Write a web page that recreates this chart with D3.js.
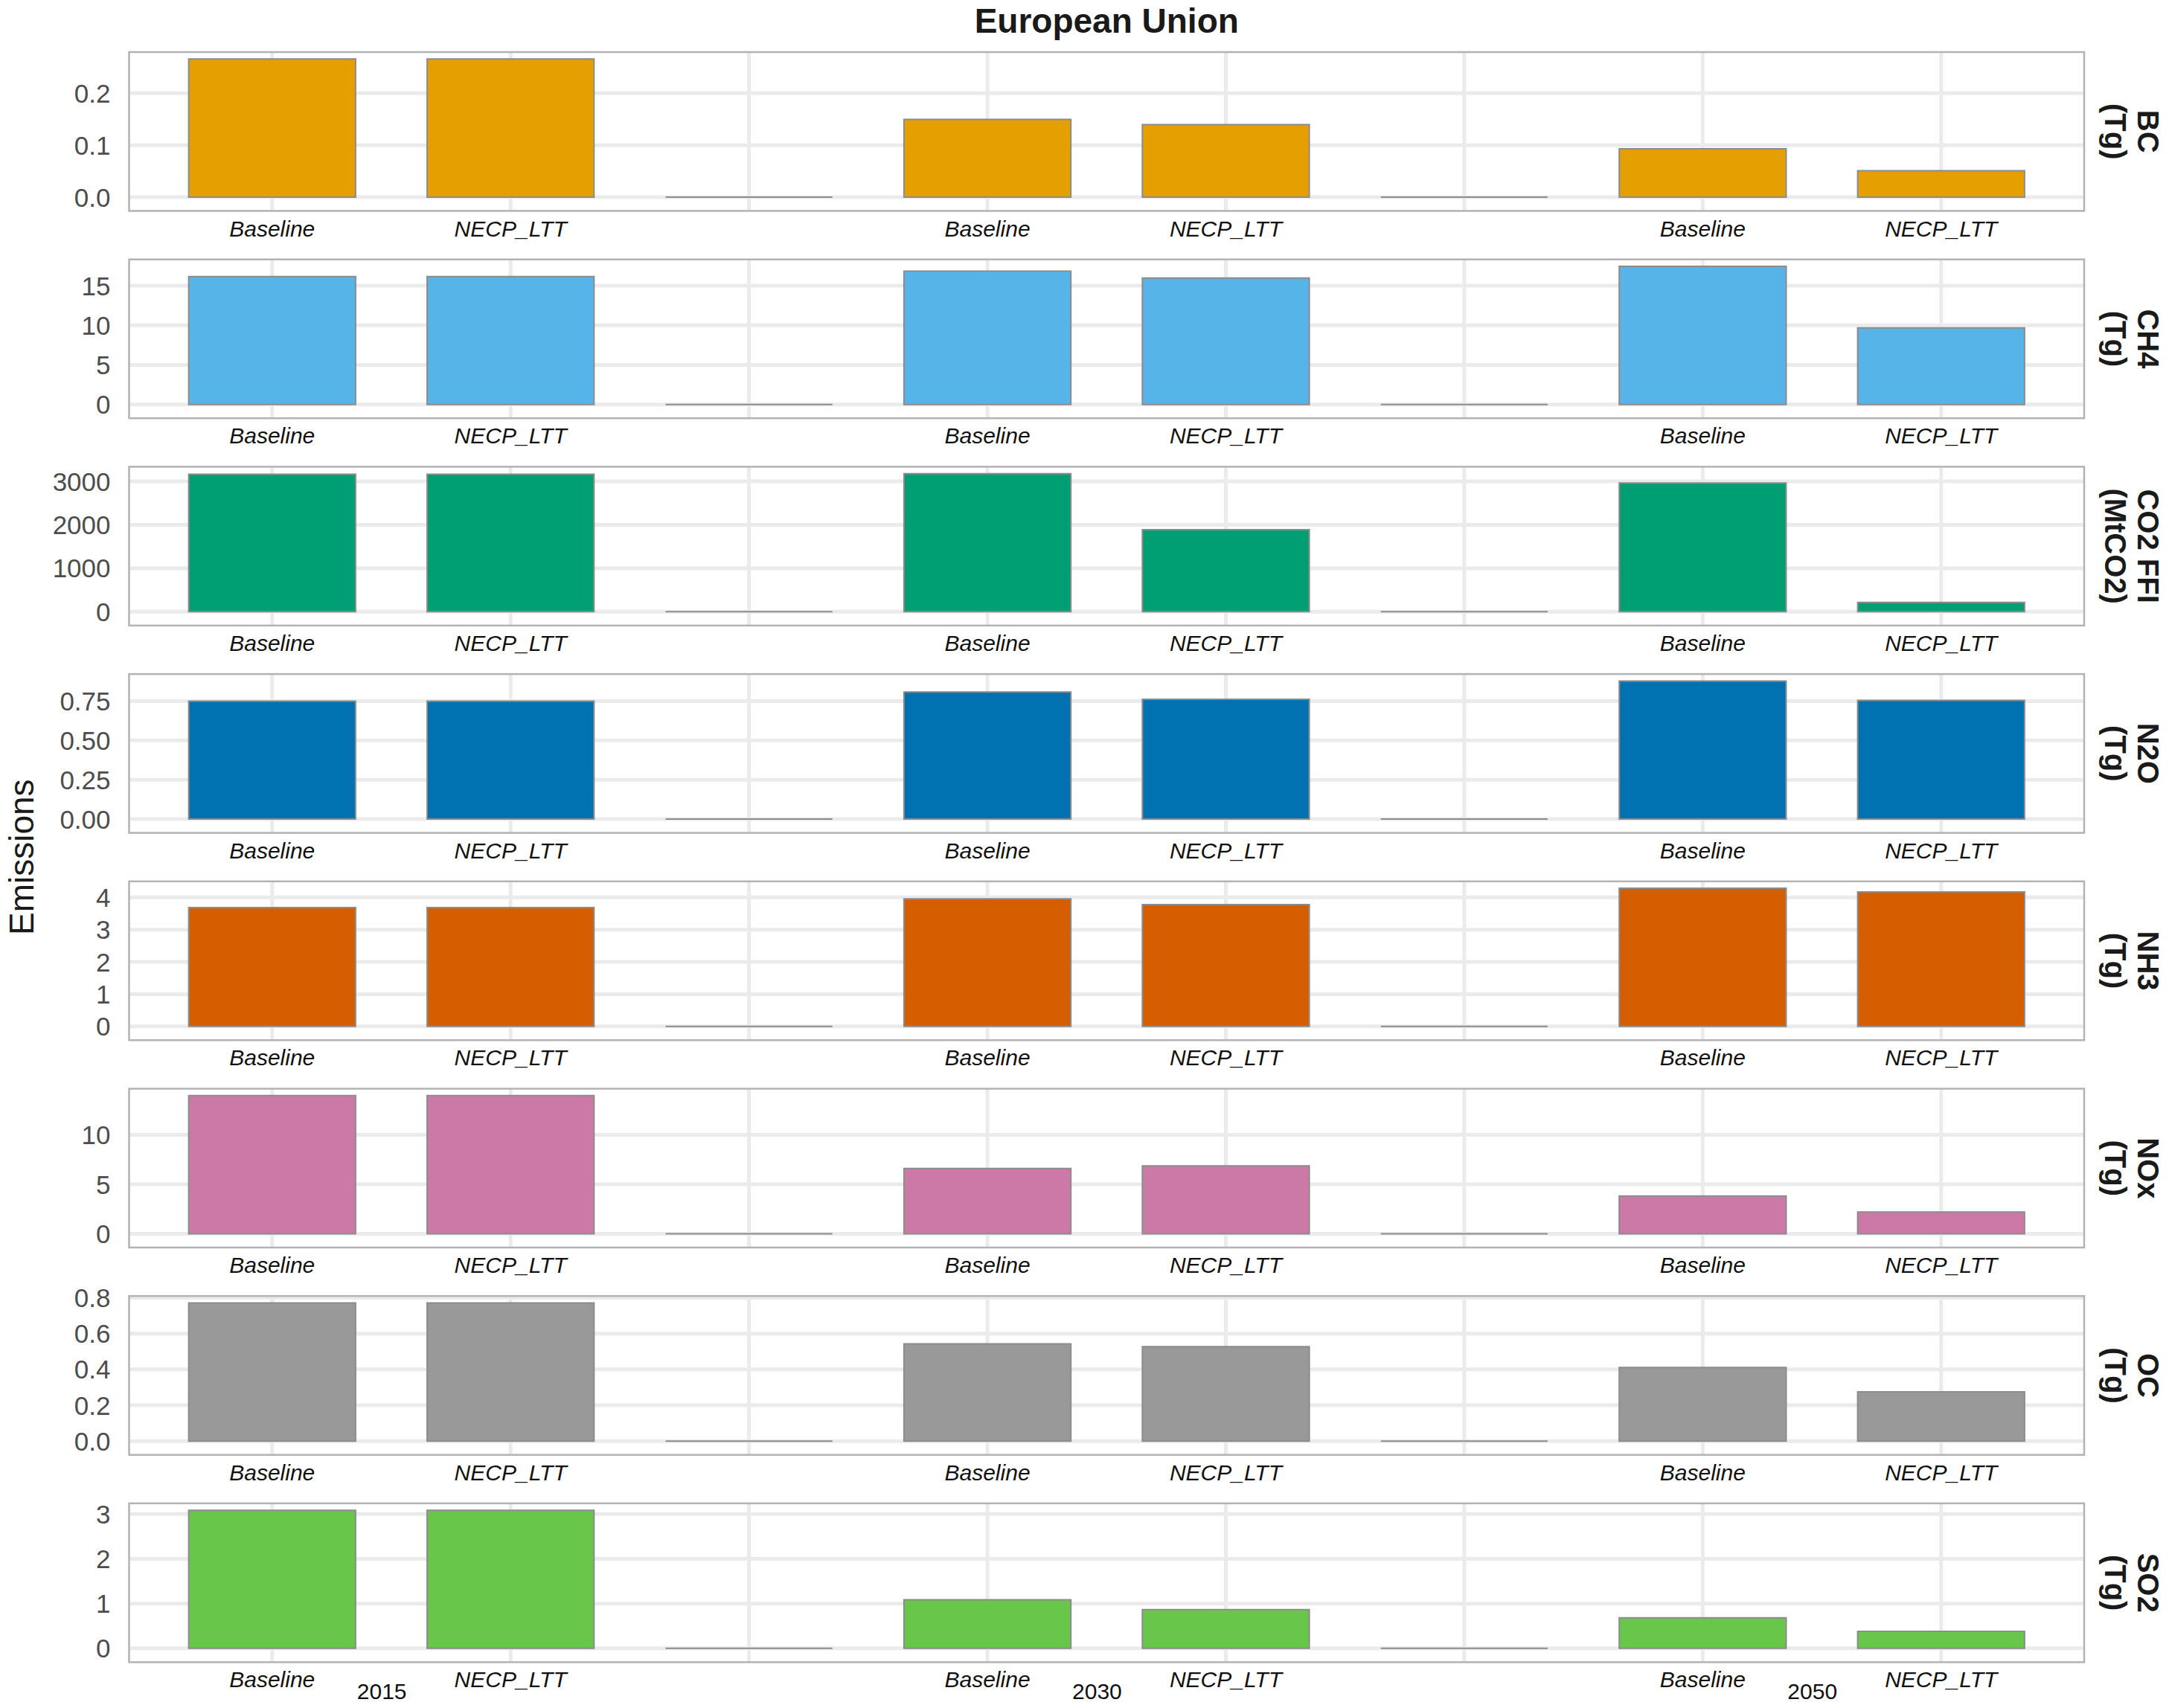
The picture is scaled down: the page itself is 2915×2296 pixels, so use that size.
<!DOCTYPE html>
<html>
<head>
<meta charset="utf-8">
<script src="https://cdn.jsdelivr.net/npm/d3@7"></script>
<style>
  body { margin: 0; background: #fff; }
  svg { display: block; font-family: "Liberation Sans", Arial, sans-serif; }
</style>
</head>
<body>
<div id="viz"></div>
<script>
// slots along the x axis (the blank ones hold an empty bar)
const slotYears = ["2015", "2015", "2015", "2030", "2030", "2030", "2050", "2050"];
const slotScenarios = ["Baseline", "NECP_LTT", "", "Baseline", "NECP_LTT", "", "Baseline", "NECP_LTT"];
const years = ["2015", "2030", "2050"];

const species = ["BC", "CH4", "CO2 FFI", "N2O", "NH3", "NOx", "OC", "SO2"];
const units = ["(Tg)", "(Tg)", "(MtCO2)", "(Tg)", "(Tg)", "(Tg)", "(Tg)", "(Tg)"];
const colors = ["#E69F00", "#56B4E9", "#009E73", "#0072B2", "#D55E00", "#CC79A7", "#999999", "#68C64B"];

const bc  = [0.266, 0.266, 0, 0.1495, 0.1396, 0, 0.093, 0.0507];
const ch4 = [16.15, 16.15, 0, 16.83, 15.97, 0, 17.45, 9.68];
const co2 = [3164, 3164, 0, 3177, 1890, 0, 2961, 216];
const n2o = [0.750, 0.750, 0, 0.808, 0.762, 0, 0.878, 0.755];
const nh3 = [3.683, 3.683, 0, 3.957, 3.777, 0, 4.283, 4.171];
const nox = [13.96, 13.96, 0, 6.60, 6.85, 0, 3.82, 2.20];
const oc  = [0.771, 0.771, 0, 0.542, 0.527, 0, 0.411, 0.275];
const so2 = [3.086, 3.086, 0, 1.086, 0.865, 0, 0.681, 0.380];
const values = [bc, ch4, co2, n2o, nh3, nox, oc, so2];

const yTicks = [
  [0, 0.1, 0.2],
  [0, 5, 10, 15],
  [0, 1000, 2000, 3000],
  [0, 0.25, 0.5, 0.75],
  [0, 1, 2, 3, 4],
  [0, 5, 10],
  [0, 0.2, 0.4, 0.6, 0.8],
  [0, 1, 2, 3]
];
const yFormats = [".1f", "d", "d", ".2f", "d", "d", ".1f", "d"];

let width = 2915, height = 2296;
let margin = { left: 173.5, right: 114, top: 70 };
let panelH = 213.5, panelStep = 278.7;

let svg = d3.select("#viz").append("svg")
  .attr("width", width)
  .attr("height", height);

let x = d3.scaleBand()
  .domain(d3.range(slotYears.length))
  .range([margin.left, width - margin.right])
  .paddingInner(0.3)
  .paddingOuter(0.25);

svg.append("text")
  .text("European Union")
  .attr("x", (margin.left + width - margin.right) / 2)
  .attr("y", 44)
  .attr("text-anchor", "middle")
  .style("font-weight", "bold")
  .style("font-size", "46px")
  .style("fill", "#1a1a1a");

svg.append("text")
  .text("Emissions")
  .attr("transform", "translate(45," + (margin.top + (panelStep * 7 + panelH) / 2) + ") rotate(-90)")
  .attr("text-anchor", "middle")
  .style("font-size", "46px")
  .style("fill", "#1a1a1a");

for (let i = 0; i < species.length; i++) {
  let top = margin.top + i * panelStep;
  let vals = values[i];
  let maxV = d3.max(vals);

  let y = d3.scaleLinear()
    .domain([-0.1 * maxV, 1.05 * maxV])
    .range([top + panelH, top]);

  let g = svg.append("g");

  // grid
  g.selectAll(".hgrid")
    .data(yTicks[i])
    .enter().append("line")
    .attr("x1", margin.left).attr("x2", width - margin.right)
    .attr("y1", d => y(d)).attr("y2", d => y(d))
    .style("stroke", "#ebebeb")
    .style("stroke-width", 5);

  g.selectAll(".vgrid")
    .data(x.domain())
    .enter().append("line")
    .attr("x1", d => x(d) + x.bandwidth() / 2)
    .attr("x2", d => x(d) + x.bandwidth() / 2)
    .attr("y1", top).attr("y2", top + panelH)
    .style("stroke", "#ebebeb")
    .style("stroke-width", 5);

  // bars (paths so the empty ones still show as a line)
  g.selectAll(".bar")
    .data(vals)
    .enter().append("path")
    .attr("d", (d, j) => {
      let x0 = x(j), x1 = x(j) + x.bandwidth();
      return "M" + x0 + "," + y(0) + "H" + x1 + "V" + y(d) + "H" + x0 + "Z";
    })
    .style("fill", colors[i])
    .style("stroke", "#8c8c8c")
    .style("stroke-width", 2);

  // y axis labels
  g.selectAll(".ytick")
    .data(yTicks[i])
    .enter().append("text")
    .text(d => d3.format(yFormats[i])(d))
    .attr("x", margin.left - 25)
    .attr("y", d => y(d))
    .attr("dy", "0.36em")
    .attr("text-anchor", "end")
    .style("font-size", "35px")
    .style("fill", "#4d4d4d");

  // panel border
  g.append("rect")
    .attr("x", margin.left).attr("y", top)
    .attr("width", width - margin.right - margin.left)
    .attr("height", panelH)
    .style("fill", "none")
    .style("stroke", "#b3b3b3")
    .style("stroke-width", 2.5);

  // scenario labels
  g.selectAll(".xlab")
    .data(slotScenarios)
    .enter().append("text")
    .text(d => d)
    .attr("x", (d, j) => x(j) + x.bandwidth() / 2)
    .attr("y", top + panelH + 34)
    .attr("text-anchor", "middle")
    .style("font-style", "italic")
    .style("font-size", "30px")
    .style("fill", "#111");

  // strip label
  let cy = top + panelH / 2;
  g.append("text")
    .text(species[i])
    .attr("transform", "translate(2887," + cy + ") rotate(90)")
    .attr("text-anchor", "middle")
    .attr("dy", "0.36em")
    .style("font-weight", "bold")
    .style("font-size", "40px")
    .style("fill", "#1a1a1a");
  g.append("text")
    .text(units[i])
    .attr("transform", "translate(2843," + cy + ") rotate(90)")
    .attr("text-anchor", "middle")
    .attr("dy", "0.36em")
    .style("font-weight", "bold")
    .style("font-size", "40px")
    .style("fill", "#1a1a1a");

  // year labels under the last panel
  if (i === species.length - 1) {
    g.selectAll(".year")
      .data(years)
      .enter().append("text")
      .text(d => d)
      .attr("x", d => x(slotYears.indexOf(d)) + x.bandwidth() / 2 + 0.46 * x.step())
      .attr("y", top + panelH + 50)
      .attr("text-anchor", "middle")
      .style("font-size", "30px")
      .style("fill", "#111");
  }
}
</script>
</body>
</html>
